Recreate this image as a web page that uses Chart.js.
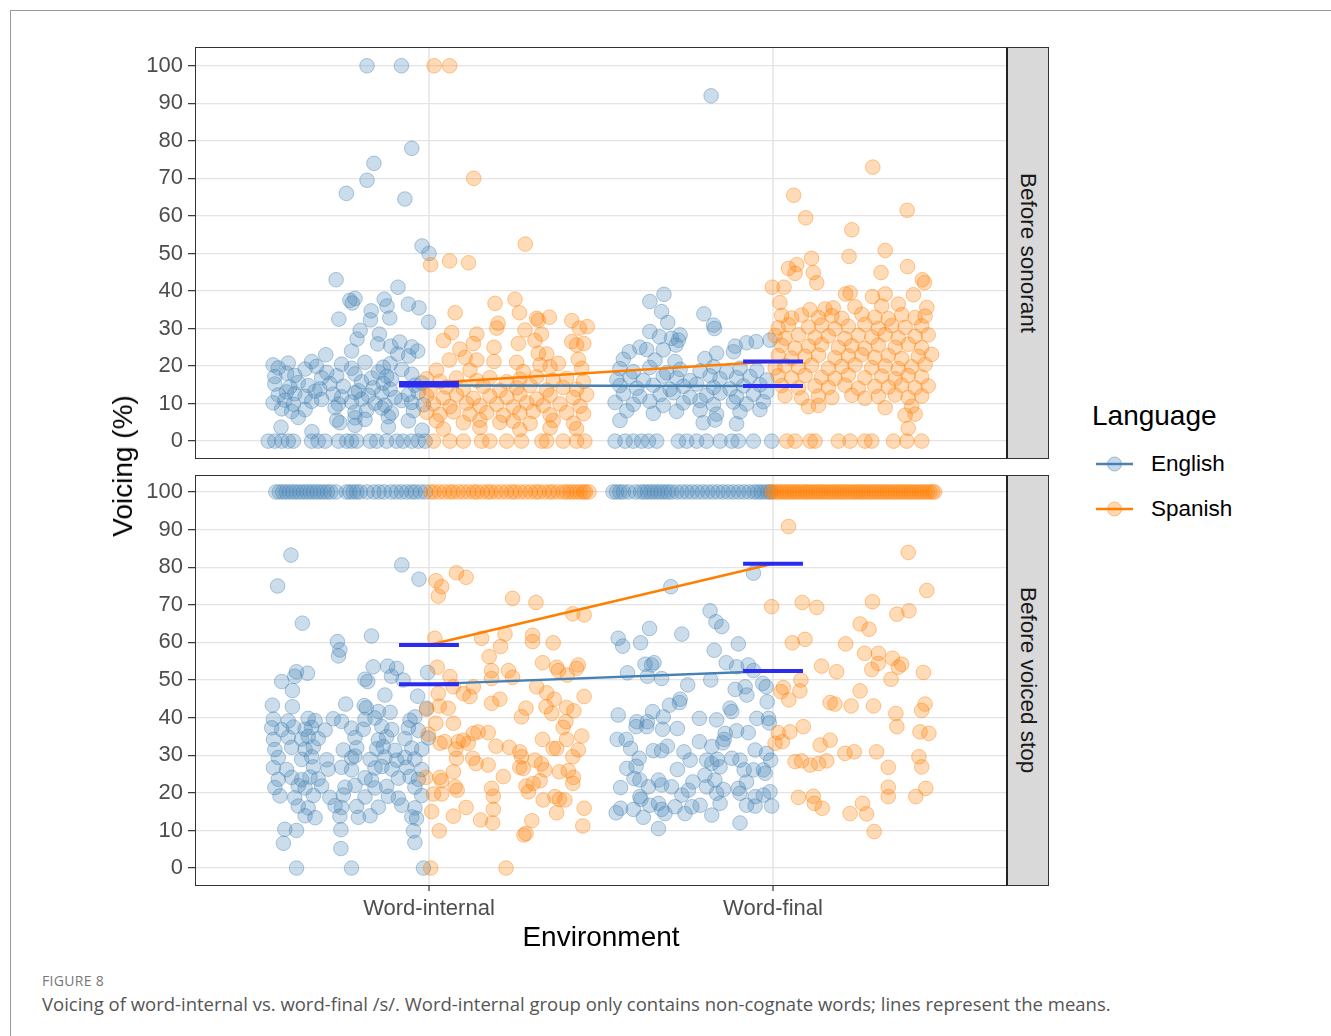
<!DOCTYPE html>
<html>
<head>
<meta charset="utf-8">
<script src="https://cdn.jsdelivr.net/npm/chart.js@4"></script>
<style>
  html,body{margin:0;padding:0;background:#fff;}
  body{width:1331px;height:1036px;position:relative;overflow:hidden;font-family:"Liberation Sans",Arial,sans-serif;}
  .abs{position:absolute;}
  #frame{left:10px;top:10px;width:1330px;height:1040px;border-left:1px solid #9a9a9a;border-top:1px solid #9a9a9a;}
  canvas{position:absolute;left:0;}
  .panelBorder{position:absolute;box-sizing:border-box;border:1px solid #333;pointer-events:none;}
  .strip{position:absolute;box-sizing:border-box;background:#d9d9d9;border:1px solid #333;border-left:2px solid #222;display:flex;align-items:center;justify-content:center;}
  .strip span{writing-mode:vertical-rl;font-size:22.5px;color:#1a1a1a;white-space:nowrap;}
  .title{font-size:28px;color:#000;white-space:nowrap;}
  .legtxt{font-size:22.5px;color:#000;white-space:nowrap;}
  .cap1{font-family:"Open Sans",sans-serif;font-size:14px;color:#777;letter-spacing:0.3px;}
  .cap2{font-family:"Open Sans",sans-serif;font-size:18.5px;color:#555;white-space:nowrap;}
</style>
</head>
<body>
<div id="frame" class="abs"></div>
<canvas id="top" width="1010" height="470" style="top:0px;width:1010px;height:470px;"></canvas>
<canvas id="bottom" width="1010" height="500" style="top:460px;width:1010px;height:500px;"></canvas>

<div class="panelBorder" style="left:195px;top:47px;width:813px;height:412px;"></div>
<div class="panelBorder" style="left:195px;top:475px;width:813px;height:411px;"></div>
<div class="strip" style="left:1006px;top:47px;width:43px;height:412px;"><span id="facet0"></span></div>
<div class="strip" style="left:1006px;top:475px;width:43px;height:411px;"><span id="facet1"></span></div>

<div class="abs title" style="left:123px;top:466px;transform:translate(-50%,-50%) rotate(-90deg);">Voicing (%)</div>
<div class="abs title" style="left:601px;top:937px;transform:translate(-50%,-50%);">Environment</div>

<div class="abs title" style="left:1092px;top:400px;">Language</div>
<svg class="abs" style="left:1096px;top:454px;" width="38" height="20">
  <line x1="0" y1="10" x2="37" y2="10" stroke="#4682B4" stroke-width="2.4"/>
  <circle cx="18.5" cy="10" r="7" fill="rgba(70,130,180,0.3)" stroke="rgba(70,130,180,0.45)"/>
</svg>
<div class="abs legtxt" style="left:1151px;top:451px;">English</div>
<svg class="abs" style="left:1096px;top:499px;" width="38" height="20">
  <line x1="0" y1="10" x2="37" y2="10" stroke="#FF7F00" stroke-width="2.4"/>
  <circle cx="18.5" cy="10" r="7" fill="rgba(255,127,0,0.3)" stroke="rgba(255,127,0,0.45)"/>
</svg>
<div class="abs legtxt" style="left:1151px;top:496px;">Spanish</div>

<div class="abs cap1" style="left:42px;top:971px;">FIGURE 8</div>
<div class="abs cap2" style="left:42px;top:991px;">Voicing of word-internal vs. word-final /s/. Word-internal group only contains non-cognate words; lines represent the means.</div>

<script>
// ---------------- DATA ----------------
const categories = ['Word-internal', 'Word-final'];
const facets = ['Before sonorant', 'Before voiced stop'];
const languages = ['English', 'Spanish'];
const yTickValues = [0, 10, 20, 30, 40, 50, 60, 70, 80, 90, 100];

// group means (Word-internal, Word-final)
const englishMeansSonorant = [14.8, 14.7];
const spanishMeansSonorant = [15.5, 21.2];
const englishMeansStop = [48.9, 52.4];
const spanishMeansStop = [59.3, 80.9];

// jittered observations [x position on environment axis, voicing %]
const englishSonorant = [
  // Word-internal
  [0.82,100],[0.92,100],[0.95,78],[0.84,74],[0.82,69.5],[0.76,66],[0.93,64.5],[0.98,52],[1.0,50],[0.91,41],[0.73,43],
  [0.770,37.5],[0.785,38],[0.777,36.8],[0.870,37.8],[0.878,36],[0.832,34.7],[0.830,32.3],[0.738,32.5],[0.886,32.8],[0.940,36.5],[0.971,35.5],[0.999,31.7],
  [0.791,27.2],[0.856,28.5],[0.851,25.9],[0.775,24],[0.889,25.3],[0.915,26.4],[0.950,25.1],[0.909,23.2],[0.941,22.7],[0.967,24],[0.80,29.5],[0.70,23],
  [0.547,20.3],[0.562,19.5],[0.591,20.8],[0.640,19.2],[0.659,21.2],[0.673,19.9],[0.746,20.5],[0.775,19.4],[0.814,21],[0.867,19.7],[0.887,20.6],[0.921,19.1],
  [0.552,17.2],[0.586,18.1],[0.610,17.5],[0.688,16.9],[0.703,18.3],[0.732,17.4],[0.785,17.9],[0.833,16.8],[0.853,18.4],[0.877,17.3],[0.891,16.5],[0.950,17.8],
  [0.552,15.2],[0.596,14.4],[0.620,15.6],[0.649,14.8],[0.683,13.9],[0.712,15.3],[0.751,14.6],[0.804,15.8],[0.838,14.2],[0.867,15.4],[0.887,13.8],[0.959,14.9],[0.979,15.5],
  [0.562,12.3],[0.586,13.1],[0.610,12.6],[0.640,11.9],[0.669,13.3],[0.722,12.5],[0.746,11.8],[0.785,12.9],[0.795,13.4],[0.824,12.2],[0.863,12.8],[0.901,11.6],[0.940,12.4],[0.969,13.0],
  [0.547,10.2],[0.581,10.9],[0.606,9.8],[0.659,10.6],[0.688,11.1],[0.737,9.9],[0.775,10.4],[0.804,11.2],[0.843,10.1],[0.872,9.6],[0.921,10.8],[0.950,10.3],[0.984,9.7],
  [0.572,8.6],[0.601,7.9],[0.640,8.4],[0.727,8.9],[0.785,7.7],[0.819,8.2],[0.863,8.8],[0.891,7.5],[0.955,8.1],
  [0.620,6.3],[0.732,5.6],[0.785,6.2],[0.814,5.8],[0.882,6.5],[0.940,5.4],
  [0.741,4.9],[0.785,4.2],[0.882,3.8],[0.66,2.5],[0.98,2.9],[0.57,3.7],
  [0.533,0],[0.552,0],[0.572,0],[0.591,0],[0.606,0],[0.659,0],[0.678,0],[0.698,0],[0.737,0],[0.761,0],[0.775,0],[0.790,0],[0.829,0],[0.848,0],[0.877,0],[0.906,0],[0.925,0],[0.950,0],[0.969,0],[0.989,0],
  // Word-final
  [1.82,92],
  [1.683,39.1],[1.642,37.2],[1.676,34.5],[1.694,31.6],[1.799,33.9],[1.827,30.9],[1.830,30.0],[1.642,29.2],[1.670,27.8],[1.730,28.3],[1.725,26.9],[1.705,27.4],
  [1.582,23.8],[1.613,25],[1.633,24.4],[1.681,24.3],[1.718,25.6],[1.890,25.3],[1.923,26.2],[1.951,26.5],[1.991,26.9],[1.565,21.8],[1.657,21.6],[1.715,21.2],[1.802,22],[1.836,23.4],[1.885,23.8],
  [1.555,19.3],[1.594,18.5],[1.642,19.6],[1.691,18.2],[1.730,19.1],[1.788,18.7],[1.827,19.8],[1.865,18.4],[1.904,19.4],[1.953,18.8],
  [1.546,16.4],[1.584,17.1],[1.623,16.2],[1.681,17.3],[1.720,16.8],[1.759,16.1],[1.817,17.4],[1.846,16.6],[1.894,16.9],[1.933,17.2],[1.982,16.3],
  [1.555,14.8],[1.604,14.1],[1.652,14.9],[1.701,13.8],[1.739,14.6],[1.778,15.2],[1.827,14.3],[1.875,13.9],[1.914,14.7],[1.962,15.0],
  [1.565,12.6],[1.613,11.9],[1.672,12.4],[1.710,12.9],[1.759,11.7],[1.807,12.2],[1.846,12.8],[1.894,11.8],[1.943,12.5],[1.982,13.1],
  [1.541,10.3],[1.594,9.8],[1.642,10.6],[1.681,9.5],[1.739,10.2],[1.788,10.8],[1.827,9.7],[1.885,10.4],[1.923,9.9],[1.972,10.5],
  [1.575,8.1],[1.652,7.4],[1.720,7.9],[1.788,8.3],[1.836,7.2],[1.904,7.8],[1.962,8.4],
  [1.555,5.5],[1.797,4.9],[1.831,5.6],[1.894,4.6],
  [1.541,0],[1.570,0],[1.594,0],[1.618,0],[1.638,0],[1.662,0],[1.725,0],[1.749,0],[1.778,0],[1.807,0],[1.846,0],[1.880,0],[1.899,0],[1.943,0],[1.996,0]
];

const spanishSonorant = [
  // Word-internal
  [1.015,100],[1.06,100],[1.13,70],[1.28,52.5],[1.005,47],[1.06,48],[1.115,47.5],
  [1.192,36.7],[1.250,37.8],[1.076,34.2],[1.263,34.2],[1.313,32.7],[1.318,32.2],[1.415,32.1],[1.437,30.1],[1.201,31.4],[1.197,30.1],[1.279,29.6],[1.066,28.9],[1.139,28.5],[1.327,28.5],
  [1.042,26.8],[1.129,26.0],[1.189,25.0],[1.260,26.0],[1.308,26.8],[1.415,26.5],[1.429,25.6],[1.090,24.5],[1.318,23.4],[1.342,23.2],[1.105,22.3],[1.139,21.6],[1.059,21.6],[1.189,21.2],
  [1.255,21.0],[1.376,20.7],[1.434,21.8],[1.444,19.4],[1.022,18.9],[1.119,18.9],[1.274,18.5],[1.323,20.3],[1.352,19.8],[1.46,30.5],[1.45,26.0],[1.35,33],
  [0.993,16.6],[1.032,15.9],[1.080,16.8],[1.139,16.1],[1.177,16.9],[1.226,15.8],[1.264,16.5],[1.313,17.1],[1.361,16.2],[1.400,16.7],[1.449,15.9],
  [1.003,13.7],[1.051,14.4],[1.100,13.9],[1.158,14.6],[1.206,13.5],[1.255,14.2],[1.294,14.8],[1.342,13.6],[1.390,14.3],[1.429,13.8],
  [0.993,12.1],[1.042,11.5],[1.080,12.3],[1.129,11.4],[1.177,12.0],[1.226,11.7],[1.264,12.5],[1.313,11.2],[1.352,12.2],[1.420,11.6],[1.458,12.4],
  [1.013,9.9],[1.061,9.2],[1.109,10.1],[1.148,9.4],[1.197,9.8],[1.245,9.1],[1.284,10.2],[1.332,9.5],[1.381,9.9],[1.439,9.3],
  [0.993,7.7],[1.032,7.1],[1.071,7.8],[1.119,7.2],[1.168,7.6],[1.216,6.9],[1.264,7.5],[1.303,7.9],[1.352,7.0],[1.400,7.6],[1.449,7.3],
  [1.022,5.4],[1.100,4.9],[1.148,5.6],[1.206,5.0],[1.245,5.3],[1.294,4.7],[1.361,5.5],[1.420,4.8],
  [1.042,3.2],[1.148,3.6],[1.264,3.1],[1.352,3.5],[1.429,3.3],
  [1.013,0],[1.061,0],[1.100,0],[1.153,0],[1.177,0],[1.226,0],[1.269,0],[1.328,0],[1.342,0],[1.390,0],[1.429,0],[1.453,0],
  // Word-final
  [2.29,73],[2.39,61.5],[2.06,65.5],[2.095,59.5],[2.229,56.3],[2.326,50.8],[2.112,48.7],[2.221,49.2],[2.045,46],[2.069,47],[2.064,44.7],[2.117,44.9],[2.127,42.2],[2.314,44.9],
  [2.391,46.5],[2.434,43],[2.440,42.2],[1.998,41],[2.032,41],[2.211,39.2],[2.224,39.5],[2.289,38.5],[2.326,39.2],[2.408,39],[2.020,36.9],[2.364,36.5],[2.107,35],[2.151,35.2],
  [2.175,35.5],[2.238,35.8],[2.316,36],[2.447,35.6],
  [2.025,33.5],[2.054,32.8],[2.083,33.6],[2.132,32.9],[2.171,33.4],[2.200,32.7],[2.258,33.8],[2.296,33.0],[2.335,32.6],[2.374,33.7],[2.413,32.9],[2.442,33.3],
  [2.015,30.2],[2.045,31.0],[2.103,30.4],[2.141,30.9],[2.180,29.9],[2.219,30.6],[2.267,31.1],[2.306,30.0],[2.345,30.8],[2.384,30.3],[2.432,30.7],
  [2.006,28.1],[2.035,27.4],[2.074,28.3],[2.122,27.6],[2.161,28.0],[2.209,27.3],[2.248,28.2],[2.287,27.7],[2.326,28.4],[2.364,27.5],[2.413,27.9],[2.451,28.3],
  [2.025,25.5],[2.064,24.8],[2.103,25.3],[2.141,25.7],[2.190,24.9],[2.229,25.4],[2.267,24.7],[2.306,25.6],[2.355,25.0],[2.393,25.8],[2.432,24.9],
  [2.015,22.8],[2.054,22.1],[2.093,22.6],[2.132,22.9],[2.180,22.2],[2.219,22.7],[2.258,23.0],[2.296,22.3],[2.335,22.8],[2.374,22.0],[2.422,22.6],[2.461,23.1],
  [2.006,19.5],[2.035,20.1],[2.074,19.7],[2.112,20.2],[2.161,19.4],[2.200,19.9],[2.238,20.3],[2.287,19.6],[2.326,20.0],[2.364,19.3],[2.403,19.8],[2.442,20.4],
  [2.015,17.4],[2.054,16.8],[2.093,17.5],[2.141,17.0],[2.180,16.7],[2.219,17.6],[2.267,16.9],[2.316,17.3],[2.355,16.6],[2.393,17.5],[2.432,17.1],
  [2.025,14.8],[2.074,14.2],[2.122,14.7],[2.161,14.3],[2.209,14.9],[2.248,14.1],[2.296,14.6],[2.335,14.4],[2.374,14.9],[2.413,14.2],[2.451,14.7],
  [2.035,12.1],[2.083,11.5],[2.132,12.0],[2.171,11.6],[2.229,12.2],[2.267,11.4],[2.306,11.9],[2.355,12.3],[2.393,11.6],[2.432,12.0],
  [2.103,9.2],[2.132,9.5],[2.326,8.9],[2.403,9.3],[2.384,6.9],[2.413,7.2],[2.393,3.4],
  [2.040,0],[2.064,0],[2.108,0],[2.122,0],[2.190,0],[2.224,0],[2.267,0],[2.287,0],[2.350,0],[2.389,0],[2.432,0]
];

const englishStop = [
  // Word-internal
  [0.599,83.2],[0.921,80.6],[0.560,75.0],[0.971,76.8],[0.632,65.1],[0.833,61.7],[0.734,60.2],[0.741,58],[0.737,56.4],[0.838,53.5],[0.880,53.7],[0.906,53.1],[0.891,51],[0.925,50],[0.996,52],
  [0.572,49.6],[0.610,51],[0.615,52.2],[0.647,51.8],[0.603,47.2],[0.814,50.2],[0.822,49.6],[0.872,46],[0.967,45.7],[0.545,43.3],[0.603,42.9],[0.758,43.6],[0.812,43.2],[0.818,42.6],
  [0.853,41.6],[0.887,41.4],[0.959,40.2],[0.993,42.5],
  [0.548,39.6],[0.591,39.1],[0.649,39.8],[0.669,39.2],[0.722,39.7],[0.746,39.0],[0.814,39.5],[0.843,39.9],[0.945,39.3],
  [0.543,37.3],[0.572,36.8],[0.606,37.5],[0.640,36.9],[0.659,37.4],[0.698,36.7],[0.775,37.2],[0.809,36.9],[0.863,37.6],[0.892,36.8],[0.940,37.3],[0.969,36.6],
  [0.548,34.2],[0.591,34.8],[0.630,34.3],[0.649,35.0],[0.678,34.4],[0.785,34.7],[0.853,34.1],[0.877,34.9],[0.930,34.4],[0.998,34.6],
  [0.552,31.5],[0.601,32.1],[0.640,31.6],[0.664,32.2],[0.751,31.4],[0.790,32.0],[0.848,31.7],[0.867,32.3],[0.901,31.3],[0.950,31.9],[0.979,31.6],
  [0.562,29.4],[0.630,28.9],[0.659,29.6],[0.703,28.8],[0.775,29.3],[0.785,29.8],[0.829,28.9],[0.872,29.5],[0.906,28.7],[0.930,29.4],[0.959,29.0],
  [0.548,26.7],[0.586,26.2],[0.664,26.9],[0.707,26.3],[0.746,26.8],[0.775,26.1],[0.843,26.6],[0.863,27.0],[0.892,26.3],[0.935,26.8],[0.979,26.2],
  [0.562,23.6],[0.601,24.1],[0.630,23.5],[0.654,24.2],[0.678,23.7],[0.814,24.0],[0.833,23.4],[0.911,23.9],[0.945,24.3],[0.969,23.6],
  [0.552,21.4],[0.620,21.9],[0.640,21.3],[0.688,21.8],[0.756,21.5],[0.785,22.0],[0.843,21.3],[0.877,21.7],[0.959,21.5],
  [0.567,19.2],[0.610,18.7],[0.664,19.3],[0.712,18.8],[0.751,19.4],[0.814,18.9],[0.882,19.1],[0.911,18.6],[0.979,19.3],
  [0.620,16.5],[0.649,16.0],[0.727,16.6],[0.746,16.1],[0.790,16.4],[0.853,16.2],[0.921,16.7],[0.959,16.0],
  [0.640,13.9],[0.669,13.4],[0.741,13.8],[0.795,13.5],[0.829,13.9],[0.950,13.6],[0.964,13.2],
  [0.581,10.3],[0.615,10.0],[0.744,10.2],[0.955,9.9],[0.577,6.6],[0.959,6.8],[0.744,5.2],
  [0.615,0],[0.775,0],[0.984,0],
  [0.555,100],[0.565,100],[0.575,100],[0.585,100],[0.595,100],[0.605,100],[0.615,100],[0.625,100],[0.635,100],[0.645,100],[0.655,100],[0.665,100],
  [0.675,100],[0.685,100],[0.695,100],[0.705,100],[0.715,100],[0.73,100],[0.76,100],[0.77,100],[0.78,100],[0.79,100],[0.80,100],[0.82,100],
  [0.84,100],[0.855,100],[0.87,100],[0.89,100],[0.905,100],[0.92,100],[0.935,100],[0.95,100],[0.96,100],[0.975,100],[0.99,100],
  // Word-final
  [1.943,78.4],[1.703,74.8],[1.817,68.4],[1.834,65.5],[1.851,64.2],[1.641,63.7],[1.550,61.1],[1.563,59.0],[1.615,59.9],[1.735,62.2],[1.829,57.9],[1.899,59.6],[1.864,54.6],
  [1.628,54.2],[1.647,54],[1.654,54.6],[1.635,51],[1.577,51.9],[1.676,50.4],[1.894,53.5],[1.928,54],[1.943,52.5],[1.752,48.7],[1.819,50],[1.890,47.5],[1.919,48.2],[1.924,46],
  [1.970,49.1],[1.980,48.2],[1.730,44.9],[1.728,44],[1.699,43.3],[1.875,42.5],[1.880,41.6],[1.983,44.2],[1.550,40.7],[1.650,41.6],[1.681,40.2],[1.604,38.9],[1.602,37.6],
  [1.635,38.9],[1.633,37.6],[1.786,39.8],[1.836,39.4],[1.679,36.9],[1.722,37.1],[1.953,39.8],[1.987,39.8],[1.989,38.6],[1.861,35.8],[1.894,36.5],[1.928,36],[1.547,34.2],
  [1.573,34.2],[1.586,31.8],[1.786,33.6],[1.822,32.3],[1.854,33.3],[1.858,34.2],[1.652,31.2],[1.676,31.2],[1.693,32.4],[1.741,30.9],[1.759,28.7],[1.948,31.4],[1.981,30.5],
  [1.993,28.7],[1.611,29.2],[1.602,27.1],[1.575,26.5],[1.722,26.2],[1.807,28.7],[1.822,27.8],[1.838,28.9],[1.880,29.2],[1.904,28.7],[1.916,26.1],[1.846,26.9],[1.972,26.1],
  [1.977,25.2],[1.943,26.1],[1.596,23.8],[1.613,23.4],[1.638,21.6],[1.667,23.4],[1.676,22.1],[1.705,21.6],[1.735,19.4],[1.754,20.7],[1.767,22.9],[1.802,24.7],[1.807,21.6],
  [1.831,23.4],[1.836,19.9],[1.856,20.9],[1.899,21.2],[1.904,19.9],[1.923,22.9],[1.948,19],[1.972,19.4],[1.991,20.3],[1.557,21.4],[1.613,19],[1.616,18.3],[1.642,16.7],
  [1.667,17.2],[1.676,15.6],[1.686,14.5],[1.715,16.3],[1.744,14.5],[1.764,16.3],[1.788,16.7],[1.822,14.1],[1.846,17.2],[1.923,16.7],[1.948,16.5],[1.996,16.5],[1.544,14.7],
  [1.557,15.9],[1.594,15.6],[1.623,13.5],[1.667,10.5],[1.904,12],
  [1.535,100],[1.545,100],[1.555,100],[1.565,100],[1.58,100],[1.60,100],[1.615,100],[1.625,100],[1.635,100],[1.645,100],[1.655,100],[1.665,100],[1.675,100],
  [1.685,100],[1.695,100],[1.705,100],[1.72,100],[1.735,100],[1.75,100],[1.765,100],[1.78,100],[1.795,100],[1.81,100],[1.825,100],[1.84,100],[1.855,100],
  [1.87,100],[1.885,100],[1.90,100],[1.915,100],[1.93,100],[1.945,100],[1.955,100],[1.965,100],[1.975,100],[1.985,100],[1.993,100]
];

const spanishStop = [
  // Word-internal
  [1.080,78.5],[1.108,77.3],[1.020,76.4],[1.037,74.8],[1.027,72.3],[1.243,71.7],[1.311,70.6],[1.418,67.6],[1.451,67.3],[1.017,61.1],[1.153,61.1],[1.221,62.2],[1.208,58.9],
  [1.301,61.9],[1.301,60.2],[1.361,59.9],[1.175,56.2],[1.330,54.6],[1.024,53.4],[1.182,52.5],[1.182,50.4],[1.231,52.5],[1.243,50.7],[1.371,53.4],[1.376,52.5],[1.402,51.3],
  [1.434,54],[1.429,53.1],[1.061,50.9],[1.071,48.2],[1.129,48.2],[1.100,46.4],[1.119,45.6],[1.027,46.4],[1.313,48.2],[1.342,46.6],[1.364,44.9],[1.206,44.9],[1.182,43.8],
  [1.451,45.6],[1.030,43.1],[1.056,42.5],[0.993,42.2],[1.282,42.5],[1.269,40.2],[1.340,42.9],[1.357,41.1],[1.400,42.7],[1.421,41.8],[1.398,38.9],[1.390,37.4],[1.020,38.5],
  [1.071,38.5],[0.998,35.6],[1.143,36.2],[1.172,36],[1.129,35.8],[1.100,34],[1.114,33.2],[1.085,33.6],[1.032,33.2],[1.046,33.6],[1.195,32.4],[1.233,32.1],[1.264,30.9],
  [1.269,29.6],[1.330,34.2],[1.361,31.8],[1.371,31.8],[1.400,34.2],[1.444,35.1],[1.434,31.4],[1.418,29.6],[1.078,31.6],[1.080,29.2],[1.127,29.2],[1.137,27.8],[1.172,27.4],
  [1.264,26.8],[1.274,26.5],[1.308,28.7],[1.327,27.7],[1.337,26.1],[1.379,25.6],[1.405,25.9],[1.420,24.1],[1.418,22.5],[1.032,24.1],[1.037,23.2],[1.071,25.6],[0.991,24.1],
  [1.076,21.6],[1.082,20.7],[1.182,21.2],[1.187,19.1],[1.216,24.3],[1.282,21.8],[1.289,20.3],[1.303,22.5],[1.323,23.2],[1.332,18.1],[1.366,19],[1.379,18.3],[1.395,18.1],
  [1.371,14.7],[1.451,15.9],[1.013,19.7],[1.037,19.7],[1.008,15],[1.030,9.9],[1.108,16.1],[1.071,13.8],[1.150,12.8],[1.185,12],[1.187,15.6],[1.299,12.6],[1.282,9.2],
  [1.276,8.8],[1.447,11.2],[1.005,0],[1.224,0],
  [1.005,100],[1.015,100],[1.03,100],[1.045,100],[1.06,100],[1.07,100],[1.085,100],[1.10,100],[1.115,100],[1.13,100],[1.14,100],[1.155,100],[1.17,100],
  [1.18,100],[1.195,100],[1.21,100],[1.225,100],[1.24,100],[1.25,100],[1.265,100],[1.28,100],[1.295,100],[1.31,100],[1.32,100],[1.335,100],[1.35,100],
  [1.36,100],[1.375,100],[1.39,100],[1.40,100],[1.41,100],[1.42,100],[1.43,100],[1.44,100],[1.45,100],[1.455,100],[1.465,100],
  // Word-final
  [2.045,90.8],[2.393,83.9],[2.447,73.8],[1.996,69.5],[2.085,70.6],[2.127,69.3],[2.289,70.8],[2.360,67.5],[2.395,68.4],[2.253,64.9],[2.279,63.5],[2.056,59.9],[2.093,60.8],
  [2.211,59.6],[2.266,57.1],[2.306,57.1],[2.306,54.4],[2.287,52.8],[2.347,55.8],[2.374,54.2],[2.364,53.4],[2.141,53.7],[2.185,52.2],[2.343,50.2],[2.437,52],[2.030,48],
  [2.023,46.9],[2.081,50],[2.078,47.1],[2.046,44.7],[2.253,47.1],[2.166,44],[2.180,43.6],[2.227,43.1],[2.292,43.1],[2.357,41.1],[2.360,37.6],[2.442,43.6],[2.432,41.9],
  [2.015,36],[2.006,33.2],[2.027,33.6],[2.049,36.2],[2.088,37.6],[2.137,32.7],[2.166,34],[2.209,30.5],[2.236,30.9],[2.301,30.9],[2.427,36.2],[2.453,35.8],[2.064,28.3],
  [2.083,28.5],[2.108,27.4],[2.132,27.8],[2.156,28.5],[2.335,26.8],[2.424,29.6],[2.432,26.9],[2.074,18.8],[2.117,19.1],[2.120,17.2],[2.143,15.9],[2.224,14.5],[2.260,17.2],
  [2.272,14.4],[2.335,21.5],[2.335,19],[2.415,19],[2.444,21.2],[2.294,9.7],
  [1.995,100],[2.003,100],[2.01,100],[2.018,100],[2.025,100],[2.033,100],[2.04,100],[2.048,100],[2.056,100],[2.063,100],[2.07,100],[2.078,100],[2.086,100],
  [2.094,100],[2.1,100],[2.108,100],[2.116,100],[2.124,100],[2.131,100],[2.139,100],[2.146,100],[2.154,100],[2.162,100],[2.17,100],[2.177,100],[2.185,100],
  [2.193,100],[2.2,100],[2.208,100],[2.216,100],[2.224,100],[2.232,100],[2.24,100],[2.247,100],[2.255,100],[2.262,100],[2.27,100],[2.278,100],[2.286,100],
  [2.294,100],[2.301,100],[2.309,100],[2.317,100],[2.325,100],[2.332,100],[2.34,100],[2.348,100],[2.356,100],[2.364,100],[2.371,100],[2.379,100],[2.387,100],
  [2.395,100],[2.402,100],[2.41,100],[2.418,100],[2.426,100],[2.433,100],[2.441,100],[2.449,100],[2.456,100],[2.464,100],[2.47,100]
];

// ---------------- RENDERING ----------------
document.getElementById('facet0').textContent = facets[0];
document.getElementById('facet1').textContent = facets[1];

const EN_COLOR = '#4682B4';
const ES_COLOR = '#FF7F00';
const MEAN_COLOR = '#2b2bf0';
const SEG_HALF = 0.087;
const AXIS_FONT = {family: '"Liberation Sans", Arial, sans-serif', size: 22};

function toXY(arr) { return arr.map(p => ({x: p[0], y: p[1]})); }

function makePanel(canvasId, english, spanish, enMeans, esMeans, opts) {
  const ds = [];
  [enMeans, esMeans].forEach(means => {
    means.forEach((m, i) => {
      ds.push({type: 'line', data: [{x: i + 1 - SEG_HALF, y: m}, {x: i + 1 + SEG_HALF, y: m}],
        borderColor: MEAN_COLOR, borderWidth: 4, pointRadius: 0, order: 0, borderCapStyle: 'butt'});
    });
  });
  ds.push({type: 'line', data: enMeans.map((m, i) => ({x: i + 1, y: m})), borderColor: EN_COLOR, borderWidth: 2.4, pointRadius: 0, order: 1});
  ds.push({type: 'line', data: esMeans.map((m, i) => ({x: i + 1, y: m})), borderColor: ES_COLOR, borderWidth: 2.4, pointRadius: 0, order: 1});
  ds.push({type: 'scatter', label: languages[1], data: toXY(spanish), backgroundColor: 'rgba(255,127,0,0.28)',
    borderColor: 'rgba(255,127,0,0.42)', borderWidth: 1, pointRadius: 7.3, order: 2});
  ds.push({type: 'scatter', label: languages[0], data: toXY(english), backgroundColor: 'rgba(70,130,180,0.28)',
    borderColor: 'rgba(70,130,180,0.42)', borderWidth: 1, pointRadius: 7.3, order: 3});

  new Chart(document.getElementById(canvasId), {
    type: 'scatter',
    data: {datasets: ds},
    options: {
      responsive: false, animation: false, devicePixelRatio: 1,
      layout: {autoPadding: false, padding: {top: opts.padTop, right: 3, left: 0, bottom: 0}},
      plugins: {legend: {display: false}, tooltip: {enabled: false}},
      scales: {
        x: {
          type: 'linear', min: 0.32, max: 2.68,
          afterBuildTicks: s => { s.ticks = categories.map((c, i) => ({value: i + 1})); },
          afterFit: s => { s.height = opts.xHeight; s.paddingLeft = 0; s.paddingRight = 0; },
          ticks: {display: opts.showX, autoSkip: false, maxRotation: 0, minRotation: 0,
            callback: (v, i) => categories[i], color: '#4d4d4d', font: AXIS_FONT, padding: 5},
          grid: {color: '#ebebeb', lineWidth: 2, drawTicks: opts.showX, tickLength: 6, tickColor: '#333', tickWidth: 1.2},
          border: {display: false}
        },
        y: {
          min: -4.5, max: opts.yMax,
          afterBuildTicks: s => {
            const t = [];
            yTickValues.forEach(v => { t.push({value: v}); if (v + 5 < opts.yMax) t.push({value: v + 5}); });
            s.ticks = t.sort((a, b) => a.value - b.value);
          },
          afterFit: s => { s.width = 195; s.paddingTop = 0; s.paddingBottom = 0; },
          ticks: {color: '#4d4d4d', font: AXIS_FONT, padding: 5,
            callback: (v) => (yTickValues.includes(v) ? String(v) : '')},
          grid: {
            color: c => (yTickValues.includes(c.tick.value) ? '#e4e4e4' : '#f1f1f1'),
            lineWidth: c => (yTickValues.includes(c.tick.value) ? 1.3 : 0.8),
            drawTicks: true, tickLength: 7,
            tickColor: c => (yTickValues.includes(c.tick.value) ? '#333' : 'rgba(0,0,0,0)'),
            tickWidth: 1.2
          },
          border: {display: false}
        }
      }
    }
  });
}

makePanel('top', englishSonorant, spanishSonorant, englishMeansSonorant, spanishMeansSonorant,
  {padTop: 47, xHeight: 12, showX: false, yMax: 105});
makePanel('bottom', englishStop, spanishStop, englishMeansStop, spanishMeansStop,
  {padTop: 15, xHeight: 75, showX: true, yMax: 104.5});
</script>
</body>
</html>
